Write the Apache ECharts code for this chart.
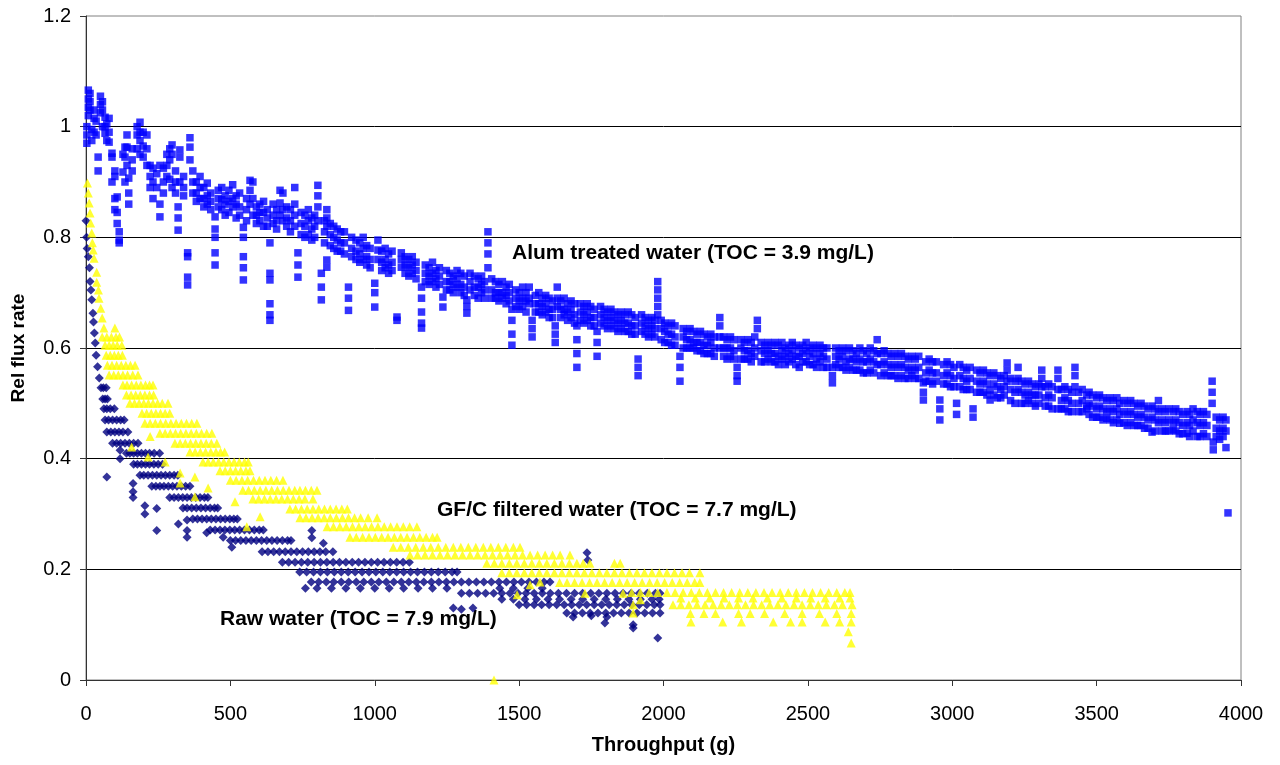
<!DOCTYPE html>
<html><head><meta charset="utf-8">
<script src="https://cdn.jsdelivr.net/npm/echarts@6/dist/echarts.min.js"></script>
<style>html,body{margin:0;padding:0;background:#fff}#c{width:1280px;height:765px}</style>
</head><body><div id="c"></div>
<script>
// Axis ticks
const xTicks = [0, 500, 1000, 1500, 2000, 2500, 3000, 3500, 4000];
const yTicks = [0, 0.2, 0.4, 0.6, 0.8, 1.0, 1.2];

// Alum treated water: each row = [throughput, rel flux readings at that throughput...]
const alumRows = [
[3,1.00,0.985,0.97],[8,1.066,1.05,1.035,1.02],[14,1.06,1.045,1.03],[20,0.995,0.975],[28,1.03,1.015,0.99],
[35,1.01,0.985],[42,0.945,0.92],[50,1.055,1.04,1.025],[57,1.045,1.03,1.0],[66,1.017,1.0,0.988],
[72,1.005,0.975],[80,1.015,0.99,0.972],[90,0.952,0.945,0.9],[100,0.92,0.91,0.87,0.85],[108,0.873,0.845,0.825],
[115,0.81,0.795,0.79],[128,0.918,0.95],[135,0.963,0.945,0.9],[142,0.985,0.963,0.93],[148,0.907,0.88,0.86],
[160,0.94,0.96,0.92],[177,1.0,0.985,0.96],[187,1.008,0.99,0.975,0.95],[198,0.99,0.965,0.945],[211,0.985,0.96,0.93],
[222,0.93,0.91,0.89],[232,0.925,0.9,0.87],[245,0.915,0.89],[256,0.93,0.86,0.837],[268,0.925,0.9,0.88],
[280,0.95,0.93,0.91],[290,0.96,0.94,0.905],[298,0.967,0.95,0.89],[310,0.92,0.9,0.88],[319,0.855,0.835,0.813],
[325,0.958,0.945,0.9],[338,0.91,0.89,0.875],[352,0.772,0.765,0.728,0.714],[360,0.98,0.963,0.94],[370,0.92,0.9,0.88],
[382,0.9,0.88,0.865],[395,0.91,0.89,0.87],[408,0.89,0.87,0.855],[420,0.898,0.875,0.86],[432,0.88,0.865,0.85],
[447,0.837,0.815,0.80,0.772,0.75],[458,0.885,0.87,0.855],[470,0.89,0.868,0.85],[482,0.875,0.86,0.84],[495,0.885,0.865,0.845],
[508,0.895,0.87,0.855],[520,0.875,0.86,0.835],[532,0.88,0.855,0.84],[545,0.818,0.80,0.765,0.745,0.723],[556,0.87,0.85,0.83],
[568,0.903,0.885,0.86],[578,0.9,0.87,0.84],[590,0.855,0.84,0.825],[602,0.86,0.845,0.83],[615,0.865,0.845,0.82],
[628,0.85,0.835,0.82],[637,0.79,0.735,0.723,0.68,0.66,0.65],[648,0.86,0.84,0.825],[660,0.85,0.83,0.815],[672,0.885,0.862,0.84],
[682,0.88,0.85,0.83],[695,0.855,0.835,0.82],[708,0.85,0.83,0.81],[723,0.89,0.86,0.84,0.82],[734,0.772,0.75,0.728],
[745,0.845,0.825,0.805],[758,0.84,0.82,0.8],[770,0.85,0.83,0.805],[782,0.835,0.815,0.795],[792,0.84,0.82,0.80],
[803,0.894,0.875,0.855,0.83],[815,0.735,0.71,0.687],[826,0.83,0.81,0.79],[834,0.85,0.835,0.82,0.759,0.746],[846,0.825,0.805,0.785],
[858,0.82,0.80,0.78],[870,0.815,0.795,0.775],[882,0.81,0.79,0.775],[895,0.81,0.79,0.77],[909,0.71,0.69,0.668],
[920,0.80,0.78,0.765],[935,0.795,0.775,0.76],[948,0.79,0.77,0.755],[960,0.80,0.78,0.76],[972,0.785,0.765,0.75],
[984,0.78,0.76,0.745],[1000,0.717,0.70,0.674],[1011,0.795,0.777,0.76],[1024,0.775,0.755,0.74],[1036,0.78,0.76,0.745],
[1048,0.77,0.75,0.735],[1060,0.775,0.755,0.74],[1077,0.656,0.65],[1092,0.772,0.76,0.746],[1105,0.765,0.75,0.735],
[1118,0.76,0.745,0.73],[1130,0.765,0.75,0.735],[1143,0.755,0.74,0.725],[1162,0.71,0.69,0.665,0.645,0.636],[1175,0.75,0.735,0.72],
[1188,0.745,0.73,0.715],[1200,0.755,0.735,0.72],[1212,0.74,0.725,0.71],[1224,0.745,0.73,0.715],[1236,0.692,0.674],
[1248,0.74,0.72,0.705],[1260,0.735,0.72,0.705],[1272,0.73,0.715,0.70],[1285,0.74,0.725,0.71],[1298,0.735,0.715,0.70],
[1310,0.73,0.71,0.695],[1319,0.687,0.675,0.663],[1330,0.735,0.72,0.705],[1345,0.73,0.71,0.695],[1358,0.725,0.71,0.69],
[1370,0.73,0.715,0.70],[1380,0.72,0.705,0.69],[1392,0.81,0.79,0.77,0.745],[1405,0.725,0.705,0.69],[1418,0.72,0.70,0.69],
[1430,0.715,0.70,0.685],[1442,0.72,0.70,0.69],[1455,0.71,0.695,0.68],[1466,0.715,0.70,0.685],[1475,0.67,0.65,0.625,0.605],
[1488,0.705,0.69,0.675],[1500,0.70,0.685,0.67],[1512,0.71,0.69,0.675],[1524,0.70,0.685,0.665],[1535,0.71,0.69,0.68],
[1545,0.65,0.635,0.62],[1556,0.695,0.68,0.665],[1568,0.70,0.68,0.665],[1580,0.69,0.675,0.66],[1592,0.695,0.68,0.665],
[1604,0.69,0.67,0.655],[1616,0.685,0.67,0.655],[1625,0.64,0.625,0.61],[1632,0.71,0.69,0.675],[1644,0.685,0.67,0.655],
[1656,0.69,0.67,0.66],[1668,0.68,0.665,0.65],[1680,0.685,0.67,0.655],[1692,0.68,0.66,0.645],[1700,0.64,0.615,0.59,0.565],
[1712,0.68,0.665,0.65],[1724,0.675,0.66,0.645],[1736,0.68,0.665,0.65],[1748,0.675,0.655,0.64],[1760,0.67,0.655,0.64],
[1770,0.63,0.61,0.585],[1782,0.675,0.66,0.645],[1794,0.67,0.655,0.64],[1806,0.665,0.65,0.635],[1818,0.67,0.655,0.64],
[1830,0.665,0.65,0.635],[1842,0.66,0.645,0.63],[1854,0.665,0.65,0.635],[1866,0.66,0.645,0.63],[1878,0.665,0.645,0.63],
[1890,0.66,0.64,0.625],[1902,0.655,0.64,0.625],[1912,0.58,0.565,0.55],[1924,0.66,0.645,0.63],[1936,0.655,0.64,0.625],
[1948,0.65,0.635,0.62],[1960,0.655,0.64,0.625],[1970,0.65,0.635,0.62],[1980,0.72,0.705,0.69,0.675,0.66],[1992,0.65,0.635,0.615],
[2004,0.645,0.63,0.61],[2016,0.64,0.625,0.61],[2028,0.645,0.625,0.605],[2040,0.64,0.62,0.605],[2057,0.585,0.565,0.54],
[2068,0.635,0.62,0.60],[2080,0.63,0.615,0.60],[2092,0.635,0.615,0.60],[2104,0.63,0.61,0.60],[2116,0.625,0.61,0.595],
[2128,0.63,0.61,0.595],[2140,0.625,0.605,0.59],[2152,0.62,0.605,0.59],[2164,0.625,0.61,0.59],[2176,0.62,0.60,0.585],
[2195,0.655,0.64,0.62,0.60],[2208,0.62,0.60,0.585],[2220,0.615,0.60,0.58],[2232,0.62,0.60,0.585],[2244,0.615,0.595,0.58],
[2255,0.565,0.55,0.54],[2268,0.615,0.60,0.58],[2280,0.61,0.595,0.58],[2292,0.615,0.595,0.58],[2304,0.61,0.59,0.575],
[2316,0.62,0.60,0.585],[2325,0.65,0.635],[2338,0.61,0.595,0.575],[2350,0.605,0.59,0.575],[2362,0.61,0.595,0.58],
[2374,0.605,0.59,0.575],[2386,0.61,0.59,0.575],[2398,0.605,0.585,0.57],[2410,0.61,0.595,0.58],[2422,0.60,0.585,0.57],
[2434,0.605,0.59,0.575],[2446,0.61,0.595,0.58],[2458,0.605,0.585,0.57],[2470,0.60,0.585,0.565],[2482,0.605,0.59,0.575],
[2494,0.61,0.595,0.575],[2506,0.60,0.585,0.57],[2518,0.605,0.59,0.57],[2530,0.60,0.58,0.565],[2542,0.605,0.59,0.575],
[2554,0.60,0.585,0.565],[2566,0.60,0.58,0.565],[2585,0.565,0.55,0.537],[2596,0.60,0.585,0.57],[2608,0.595,0.58,0.565],
[2620,0.60,0.585,0.565],[2632,0.595,0.575,0.56],[2644,0.60,0.58,0.565],[2656,0.595,0.58,0.56],[2668,0.59,0.575,0.56],
[2680,0.60,0.58,0.56],[2692,0.595,0.575,0.555],[2704,0.59,0.575,0.555],[2716,0.60,0.58,0.56],[2728,0.595,0.575,0.555],
[2740,0.615,0.59,0.57],[2752,0.59,0.57,0.55],[2764,0.595,0.575,0.555],[2776,0.59,0.57,0.55],[2788,0.585,0.565,0.55],
[2800,0.59,0.57,0.55],[2812,0.585,0.565,0.545],[2824,0.59,0.57,0.55],[2836,0.585,0.565,0.545],[2848,0.58,0.56,0.545],
[2860,0.585,0.565,0.55],[2872,0.58,0.56,0.545],[2884,0.585,0.565,0.545],[2900,0.537,0.52,0.506],[2908,0.575,0.555,0.54],
[2920,0.58,0.56,0.54],[2932,0.575,0.555,0.535],[2945,0.575,0.555,0.54],[2957,0.506,0.49,0.47],[2970,0.57,0.55,0.535],
[2982,0.575,0.555,0.535],[2994,0.57,0.55,0.53],[3006,0.565,0.545,0.53],[3015,0.50,0.48],[3026,0.57,0.55,0.53],
[3038,0.565,0.545,0.525],[3050,0.56,0.54,0.525],[3062,0.565,0.545,0.525],[3072,0.49,0.475],[3084,0.56,0.54,0.52],
[3096,0.555,0.535,0.52],[3108,0.56,0.54,0.52],[3120,0.555,0.535,0.515],[3131,0.55,0.524,0.506],[3144,0.555,0.535,0.515],
[3156,0.55,0.53,0.51],[3168,0.545,0.525,0.51],[3180,0.55,0.53,0.515],[3190,0.573,0.56,0.54],[3202,0.545,0.525,0.505],
[3217,0.54,0.52,0.50],[3228,0.565,0.545,0.525],[3240,0.54,0.52,0.50],[3252,0.535,0.515,0.50],[3264,0.54,0.52,0.505],
[3276,0.535,0.515,0.50],[3288,0.53,0.515,0.495],[3300,0.535,0.515,0.50],[3310,0.56,0.545,0.53],[3322,0.53,0.51,0.495],
[3334,0.535,0.515,0.495],[3346,0.53,0.51,0.49],[3366,0.56,0.545,0.525,0.49],[3378,0.525,0.505,0.49],[3390,0.53,0.51,0.49],
[3402,0.525,0.505,0.485],[3414,0.52,0.50,0.485],[3425,0.565,0.55,0.53],[3438,0.52,0.50,0.485],[3450,0.525,0.505,0.485],
[3466,0.515,0.495,0.49],[3474,0.52,0.50,0.48],[3486,0.515,0.495,0.475],[3500,0.51,0.49,0.475],[3510,0.515,0.495,0.475],
[3522,0.51,0.49,0.47],[3535,0.505,0.485,0.473],[3546,0.51,0.49,0.47],[3558,0.505,0.485,0.465],[3570,0.51,0.49,0.47],
[3580,0.50,0.48,0.464],[3594,0.505,0.485,0.465],[3606,0.50,0.48,0.46],[3618,0.505,0.485,0.465],[3630,0.50,0.48,0.46],
[3642,0.495,0.475,0.46],[3654,0.50,0.48,0.46],[3666,0.495,0.475,0.455],[3678,0.49,0.47,0.455],[3692,0.495,0.475,0.448],
[3702,0.49,0.47,0.45],[3714,0.505,0.485,0.465],[3726,0.49,0.47,0.45],[3738,0.485,0.465,0.45],[3750,0.49,0.47,0.45],
[3765,0.485,0.465,0.452],[3774,0.49,0.47,0.45],[3786,0.485,0.465,0.445],[3798,0.48,0.46,0.445],[3813,0.485,0.465,0.446],
[3822,0.48,0.46,0.44],[3834,0.49,0.47,0.45],[3848,0.485,0.465,0.44],[3858,0.48,0.46,0.44],[3870,0.485,0.465,0.445],
[3882,0.48,0.46,0.44],[3900,0.54,0.52,0.50],[3904,0.43,0.416],[3914,0.475,0.455,0.44],[3926,0.47,0.45,0.435],
[3938,0.475,0.455,0.44],[3948,0.47,0.45,0.42],[3955,0.302]
];

// Raw water: leading single readings [throughput, rel flux]
const rawSingles = [
[0,0.83],[2,0.80],[4,0.78],[8,0.765],[12,0.745],[14,0.72],[17,0.705],[20,0.687],[24,0.663],[26,0.647],
[29,0.627],[32,0.609],[35,0.587],[40,0.566],[46,0.546],[72,0.367],[118,0.415],[118,0.40],[163,0.355],[163,0.34],
[163,0.33],[204,0.315],[204,0.30],[245,0.31],[245,0.27],[320,0.282],[350,0.289],[350,0.27],[350,0.258],[418,0.266],
[475,0.258],[505,0.24],[782,0.27],[782,0.257],[822,0.247],[1735,0.23],[1738,0.217],[1797,0.103],[1895,0.10],[1895,0.094],
[1980,0.076],[1272,0.13],[1300,0.128],[1340,0.13],[1687,0.114],[1750,0.116],[1804,0.114]
];
// Raw water: stepped readings, each row = [rel flux, throughputs...]
const rawRows = [
[0.528,52,60,70],
[0.508,58,66,74],
[0.49,62,72,84,98],
[0.47,66,78,92,106,120,132],
[0.448,72,86,100,114,128,145],
[0.428,92,106,120,135,150,165,180],
[0.41,140,152,165,178,192,206,220,236,255],
[0.39,165,178,192,206,220,235,250,265],
[0.37,187,200,215,230,245,260,275,290,305,318],
[0.35,228,242,256,270,285,300,315,330,345,360],
[0.33,290,305,320,335,350,365,380,395,410,422],
[0.311,336,350,366,382,398,414,430,445,456],
[0.291,370,386,402,418,434,450,466,482,498,512,524],
[0.271,430,447,464,481,498,515,532,549,566,583,600,614],
[0.252,500,518,536,554,572,590,608,626,644,662,680,698,710],
[0.232,610,630,650,670,690,710,730,750,770,790,810,830,855],
[0.213,680,702,724,746,768,790,812,834,856,878,900,922,944,966,988,1010,1032,1054,1076,1098,1120],
[0.195,740,764,788,812,836,860,884,908,932,956,980,1004,1028,1052,1076,1100,1124,1148,1172,1196,1220,1244,1268,1285],
[0.177,780,806,832,858,884,910,936,962,988,1014,1040,1066,1092,1118,1144,1170,1196,1222,1248,1274,1300,1326,1352,1378,1404,1430,1456,1482,1508,1534,1560,1586,1607],
[0.166,760,800,850,900,950,1000,1050,1100,1150,1200,1250,1433,1480,1530,1580],
[0.157,1300,1328,1356,1384,1412,1440,1468,1496,1524,1552,1580,1608,1636,1664,1692,1720,1748,1776,1804,1832,1860,1888,1916,1944,1972,1988],
[0.146,1440,1480,1520,1560,1600,1640,1680,1720,1760,1800,1840,1880,1920,1960,1985],
[0.136,1500,1526,1552,1578,1604,1630,1656,1682,1708,1734,1760,1786,1812,1838,1864,1890,1916,1942,1968,1988],
[0.121,1665,1692,1719,1746,1773,1800,1827,1854,1881,1908,1935,1962,1988]
];

// GF/C filtered water: single readings [throughput, rel flux]
const gfcSingles = [
[5,0.898],[8,0.88],[11,0.862],[14,0.844],[16,0.826],[20,0.808],[22,0.79],[25,0.777],[28,0.762],[37,0.737],
[37,0.719],[43,0.705],[45,0.69],[51,0.672],[56,0.654],[158,0.421],[222,0.44],[215,0.403],[274,0.394],[326,0.374],
[377,0.367],[326,0.356],[377,0.331],[423,0.347],[516,0.322],[557,0.277],[603,0.295],[1493,0.154],[1538,0.172],[1572,0.177],
[1728,0.157],[1860,0.157],[1895,0.136],[1920,0.145],[1895,0.121],[2640,0.087],[2650,0.067],[1413,0.0]
];
// GF/C filtered water: stepped readings, each row = [rel flux, throughputs...]
const gfcRows = [
[0.636,62,100],
[0.62,56,72,88,104,116],
[0.605,66,80,94,108,124],
[0.587,70,84,98,112,126],
[0.569,74,90,106,122,138,154,170],
[0.551,80,96,112,128,144,162,180],
[0.533,128,142,158,174,190,206,220,232],
[0.515,140,156,172,188,204,220,234],
[0.50,152,168,184,200,216,232,248,264,284],
[0.482,194,210,226,242,258,274,290],
[0.464,204,222,240,258,276,294,312,330,348,366,384],
[0.446,256,274,292,310,328,346,364,382,400,418,436],
[0.428,308,326,344,362,380,398,416,434,453],
[0.412,360,378,396,414,432,450,466,480],
[0.394,405,423,441,459,477,495,513,531,549,562],
[0.378,464,482,500,518,536,554,568],
[0.361,500,520,540,560,580,600,620,640,660,682],
[0.343,543,563,583,603,623,643,663,683,703,723,741,760,780,800],
[0.327,578,598,618,638,658,678,698,718,738,758,786],
[0.309,706,726,746,766,786,806,826,846,866,886,905],
[0.293,741,762,783,804,825,846,867,888,909,930,951,977,1008],
[0.277,835,857,879,901,923,945,967,989,1011,1033,1055,1077,1099,1121,1146],
[0.258,914,936,958,980,1002,1024,1046,1068,1090,1112,1134,1156,1178,1200,1216],
[0.24,1064,1090,1116,1142,1168,1194,1220,1246,1272,1298,1324,1350,1376,1402,1428,1454,1480,1503],
[0.226,1122,1148,1174,1200,1226,1252,1278,1304,1330,1356,1382,1408,1434,1460,1486,1512,1538,1564,1590,1616,1642,1676],
[0.211,1388,1414,1440,1466,1492,1518,1544,1570,1596,1622,1648,1674,1700,1722,1745,1830,1850],
[0.194,1440,1466,1492,1518,1544,1570,1596,1622,1648,1674,1700,1726,1752,1778,1804,1830,1856,1882,1908,1934,1960,1986,2012,2038,2064,2090,2126],
[0.176,1640,1666,1692,1718,1744,1770,1796,1822,1848,1874,1900,1926,1952,1978,2004,2030,2056,2082,2108,2126],
[0.158,1890,1920,1950,1980,2012,2040,2068,2096,2124,2152,2180,2208,2236,2264,2292,2320,2348,2376,2404,2432,2460,2488,2516,2544,2572,2600,2628,2646],
[0.148,2060,2110,2160,2210,2260,2310,2360,2410,2460,2510,2560,2610,2646],
[0.136,2033,2060,2088,2116,2144,2172,2200,2228,2256,2284,2312,2340,2368,2396,2424,2452,2480,2508,2536,2564,2592,2620,2653],
[0.12,2093,2140,2180,2260,2300,2350,2420,2480,2540,2600,2650],
[0.105,2095,2205,2270,2380,2440,2480,2560,2610,2650]
];

const FONT = "'Liberation Sans', Arial, Helvetica, sans-serif";

function fromXRows(rows){ const out=[]; rows.forEach(r=>{ for(let i=1;i<r.length;i++) out.push([r[0], r[i]]); }); return out; }
function fromYRows(rows){ const out=[]; rows.forEach(r=>{ for(let i=1;i<r.length;i++) out.push([r[i], r[0]]); }); return out; }

const alumData = fromXRows(alumRows);
const rawData = rawSingles.concat(fromYRows(rawRows));
const gfcData = gfcSingles.concat(fromYRows(gfcRows));

const chart = echarts.init(document.getElementById('c'), null, {renderer:'canvas'});
chart.setOption({
  animation: false,
  backgroundColor: '#ffffff',
  textStyle: { fontFamily: FONT },
  grid: { left: 86, right: 39, top: 16, bottom: 85, show: true, borderColor: '#808080', borderWidth: 1, backgroundColor: 'transparent' },
  xAxis: {
    type: 'value', min: xTicks[0], max: xTicks[xTicks.length-1], interval: 500,
    name: 'Throughput (g)', nameLocation: 'middle', nameGap: 55,
    nameTextStyle: { fontFamily: FONT, fontSize: 20, fontWeight: 'bold', color: '#000' },
    axisLine: { show: true, onZero: false, lineStyle: { color: '#333', width: 1 } },
    axisTick: { show: true, inside: false, length: 6, lineStyle: { color: '#333' } },
    axisLabel: { fontFamily: FONT, fontSize: 20, color: '#000', margin: 24,
      formatter: v => String(v) },
    splitLine: { show: false }
  },
  yAxis: {
    type: 'value', min: yTicks[0], max: yTicks[yTicks.length-1], interval: 0.2,
    name: 'Rel flux rate', nameLocation: 'middle', nameGap: 58, nameRotate: 90,
    nameTextStyle: { fontFamily: FONT, fontSize: 19, fontWeight: 'bold', color: '#000' },
    axisLine: { show: true, onZero: false, lineStyle: { color: '#333', width: 1 } },
    axisTick: { show: true, inside: false, length: 6, lineStyle: { color: '#333' } },
    axisLabel: { fontFamily: FONT, fontSize: 20, color: '#000', margin: 15,
      formatter: v => (Math.round(v*10)/10).toString() },
    splitLine: { show: true, showMinLine: false, showMaxLine: false, lineStyle: { color: '#000', width: 1 } }
  },
  series: [
    { name: 'Raw water', type: 'scatter', data: rawData, symbol: 'diamond', symbolSize: 9,
      itemStyle: { color: '#000080' }, z: 2 },
    { name: 'GF/C filtered water', type: 'scatter', data: gfcData, symbol: 'triangle', symbolSize: 9,
      itemStyle: { color: '#FFFF00' }, z: 3 },
    { name: 'Alum treated water', type: 'scatter', data: alumData, symbol: 'rect', symbolSize: 7.5,
      itemStyle: { color: '#0000FF' }, z: 4 }
  ],
  graphic: [
    { type: 'text', left: 512, top: 243, style: { text: 'Alum treated water (TOC = 3.9 mg/L)', font: 'bold 21px ' + FONT, fill: '#000' } },
    { type: 'text', left: 437, top: 500, style: { text: 'GF/C filtered water (TOC = 7.7 mg/L)', font: 'bold 21px ' + FONT, fill: '#000' } },
    { type: 'text', left: 220, top: 609, style: { text: 'Raw water (TOC = 7.9 mg/L)', font: 'bold 21px ' + FONT, fill: '#000' } }
  ]
});
</script>
</body></html>
